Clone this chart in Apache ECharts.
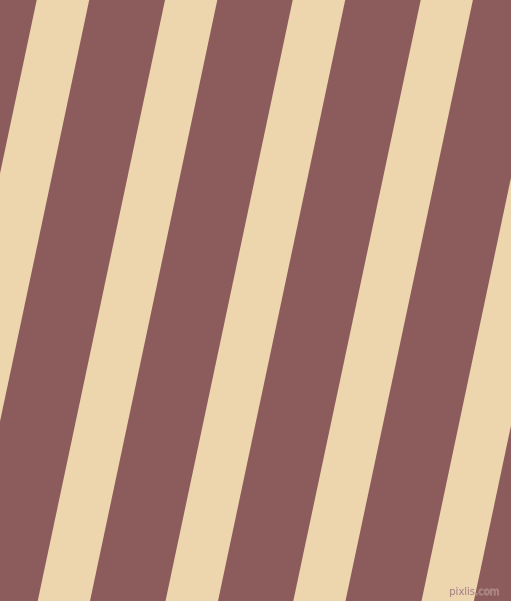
<!DOCTYPE html>
<html>
<head>
	<meta charset="UTF-8">
	<title></title>
	<style>
		html, body { margin: 0; padding: 0; background: #8c5b5b; }
	</style>
</head>
<body>
	<div id="main" style="width: 511px; height: 601px;"></div>
</body>
<script src="https://cdn.jsdelivr.net/npm/echarts@6/dist/echarts.min.js"></script>
<script>
// left edge of each light stripe on the top border (px of the picture)
var stripeTopX = [36.7, 165, 292.7, 420.7, 548.5];
// left edge of the same stripes on the bottom border
var stripeBottomX = [-90.5, 37.7, 165.5, 293.3, 421.5];
var stripeWidth = [52.5, 52.3, 52.5, 52.2, 52.4];

var chart = echarts.init(document.getElementById('main'));

var data = [];
for (var i = 0; i < stripeTopX.length; i++) {
    data.push([stripeTopX[i], stripeBottomX[i], stripeWidth[i]]);
}

var option = {
    backgroundColor: '#8c5b5b',
    animation: false,
    grid: { left: 0, right: 0, top: 0, bottom: 0 },
    xAxis: { type: 'value', min: 0, max: 511, show: false },
    yAxis: { type: 'value', min: 0, max: 601, inverse: true, show: false },
    series: [{
        type: 'custom',
        data: data,
        clip: true,
        renderItem: function (params, api) {
            var top = api.value(0), bottom = api.value(1), w = api.value(2);
            var pts = [
                api.coord([top, 0]),
                api.coord([top + w, 0]),
                api.coord([bottom + w, 601]),
                api.coord([bottom, 601])
            ];
            return {
                type: 'polygon',
                shape: { points: pts },
                style: { fill: '#edd5ae' }
            };
        }
    }],
    // small watermark, bottom right
    graphic: [{
        type: 'text',
        right: 11,
        bottom: 3,
        z: 100,
        style: {
            text: 'pixlis.com',
            fontSize: 10,
            fontFamily: 'DejaVu Sans',
            fill: '#a48280',
            stroke: 'rgba(230,200,190,0.5)',
            lineWidth: 0.8
        }
    }]
};

chart.setOption(option);
</script>
</html>
